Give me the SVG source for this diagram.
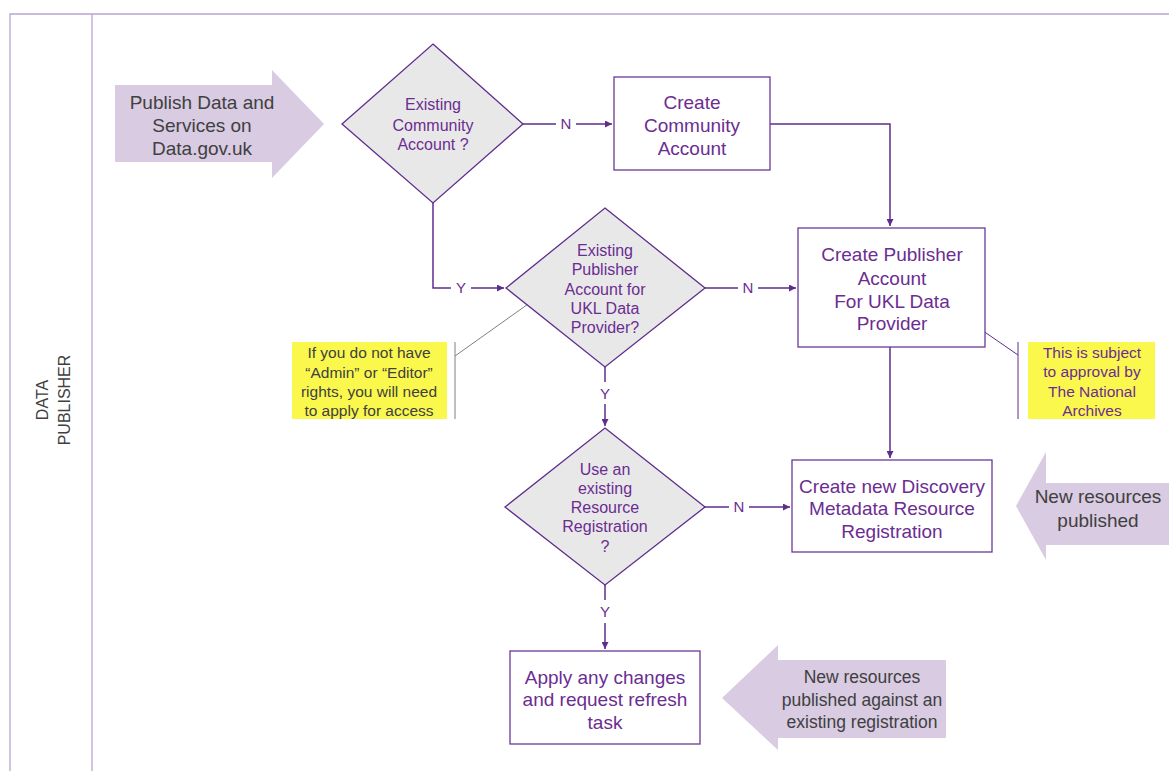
<svg xmlns="http://www.w3.org/2000/svg" width="1169" height="771" viewBox="0 0 1169 771">
<defs>
<style>
.frame{fill:none;stroke:#b9a5d3;stroke-width:1.3}
.big{fill:#d8cbe2}
.dia{fill:#e8e8e8;stroke:#5f2d8c;stroke-width:1.3}
.box{fill:#fff;stroke:#6a3a96;stroke-width:1.3}
.con{fill:none;stroke:#5f2d8c;stroke-width:1.5}
.t{font-family:"Liberation Sans",Arial,sans-serif;text-anchor:middle}
.p{fill:#6b2d92}
.g{fill:#404040}
.s14{font-size:15px}
.s16{font-size:16px}
.sc{font-size:15.5px}
.s17{font-size:19px}
.s18{font-size:17.5px}
.yel{fill:#fbf84d}
</style>
<marker id="ah" viewBox="0 0 10 10" refX="10" refY="5" markerWidth="7" markerHeight="7" orient="auto" markerUnits="userSpaceOnUse"><path d="M0,0 L10,5 L0,10 z" fill="#5f2d8c"/></marker>
</defs>
<rect width="1169" height="771" fill="#fff"/>
<g id="lane">
<path class="frame" d="M10,771 V14 H1169 M92,14 V771"/>
<text class="t g" font-size="16" transform="translate(48,400) rotate(-90)"><tspan x="0" y="0">DATA</tspan><tspan x="0" y="22">PUBLISHER</tspan></text>
</g>
<g id="connectors">
<path class="con" d="M523,124 H556 M576,124 H612" marker-end="url(#ah)"/>
<text class="t p s14" x="566" y="129">N</text>
<path class="con" d="M770,124 H890 V226" marker-end="url(#ah)"/>
<path class="con" d="M433,203 V288 H451 M471,288 H504" marker-end="url(#ah)"/>
<text class="t p s14" x="461" y="293">Y</text>
<path class="con" d="M705,288 H738 M758,288 H796" marker-end="url(#ah)"/>
<text class="t p s14" x="748" y="293">N</text>
<path class="con" d="M605,367 V382 M605,404 V426" marker-end="url(#ah)"/>
<text class="t p s14" x="605" y="399">Y</text>
<path class="con" d="M705,507 H729 M749,507 H790" marker-end="url(#ah)"/>
<text class="t p s14" x="739" y="512">N</text>
<path class="con" d="M890,347 V458" marker-end="url(#ah)"/>
<path class="con" d="M605,585 V600 M605,623 V649" marker-end="url(#ah)"/>
<text class="t p s14" x="605" y="617">Y</text>
<path d="M455,356 L538,297" fill="none" stroke="#808080" stroke-width="1"/>
<path d="M455,342 V419" fill="none" stroke="#808080" stroke-width="1"/>
<path d="M1018,355 L960,315" fill="none" stroke="#5f2d8c" stroke-width="1"/>
<path d="M1018,342 V419" fill="none" stroke="#5f2d8c" stroke-width="1"/>
</g>
<g id="start">
<path class="big" d="M115,85 H272 V70 L324,124 L272,178 V162 H115 Z"/>
<text class="t g s17" x="202" y="109">Publish Data and</text>
<text class="t g s17" x="202" y="132">Services on</text>
<text class="t g s17" x="202" y="155">Data.gov.uk</text>
</g>
<g id="d1">
<path class="dia" d="M433,44 L523,124 L433,203 L342,124 Z"/>
<text class="t p s16" x="433" y="110">Existing</text>
<text class="t p s16" x="433" y="131">Community</text>
<text class="t p s16" x="433" y="150">Account ?</text>
</g>
<g id="b1">
<rect class="box" x="614" y="77" width="156" height="93"/>
<text class="t p s17" x="692" y="109">Create</text>
<text class="t p s17" x="692" y="132">Community</text>
<text class="t p s17" x="692" y="155">Account</text>
</g>
<g id="b2">
<rect class="box" x="798" y="228" width="187" height="119"/>
<text class="t p s17" x="892" y="261">Create Publisher</text>
<text class="t p s17" x="892" y="285">Account</text>
<text class="t p s17" x="892" y="308">For UKL Data</text>
<text class="t p s17" x="892" y="330">Provider</text>
</g>
<g id="d2">
<path class="dia" d="M605,208 L705,288 L605,367 L506,288 Z"/>
<text class="t p s16" x="605" y="256">Existing</text>
<text class="t p s16" x="605" y="275">Publisher</text>
<text class="t p s16" x="605" y="295">Account for</text>
<text class="t p s16" x="605" y="314">UKL Data</text>
<text class="t p s16" x="605" y="333">Provider?</text>
</g>
<g id="d3">
<path class="dia" d="M605,428 L705,507 L605,585 L505,507 Z"/>
<text class="t p s16" x="605" y="475">Use an</text>
<text class="t p s16" x="605" y="494">existing</text>
<text class="t p s16" x="605" y="513">Resource</text>
<text class="t p s16" x="605" y="532">Registration</text>
<text class="t p s16" x="605" y="552">?</text>
</g>
<g id="b3">
<rect class="box" x="792" y="460" width="200" height="92"/>
<text class="t p s17" x="892" y="493">Create new Discovery</text>
<text class="t p s17" x="892" y="515">Metadata Resource</text>
<text class="t p s17" x="892" y="538">Registration</text>
</g>
<g id="b4">
<rect class="box" x="510" y="651" width="190" height="93"/>
<text class="t p s17" x="605" y="684">Apply any changes</text>
<text class="t p s17" x="605" y="706">and request refresh</text>
<text class="t p s17" x="605" y="729">task</text>
</g>
<g id="a1">
<path class="big" d="M1169,483 H1046 V452 L1016,506 L1046,560 V545 H1169 Z"/>
<text class="t g s17" x="1098" y="503">New resources</text>
<text class="t g s17" x="1098" y="527">published</text>
</g>
<g id="a2">
<path class="big" d="M946,660 H778 V645 L722,698 L778,750 V738 H946 Z"/>
<text class="t g s18" x="862" y="683">New resources</text>
<text class="t g s18" x="862" y="706">published against an</text>
<text class="t g s18" x="862" y="728">existing registration</text>
</g>
<g id="n1">
<rect class="yel" x="292" y="342" width="155" height="77"/>
<text class="t g sc" x="369" y="358">If you do not have</text>
<text class="t g sc" x="369" y="378">“Admin” or “Editor”</text>
<text class="t g sc" x="369" y="397">rights, you will need</text>
<text class="t g sc" x="369" y="416">to apply for access</text>
</g>
<g id="n2">
<rect class="yel" x="1028" y="342" width="127" height="77"/>
<text class="t p sc" x="1092" y="358">This is subject</text>
<text class="t p sc" x="1092" y="377">to approval by</text>
<text class="t p sc" x="1092" y="397">The National</text>
<text class="t p sc" x="1092" y="416">Archives</text>
</g>
</svg>
